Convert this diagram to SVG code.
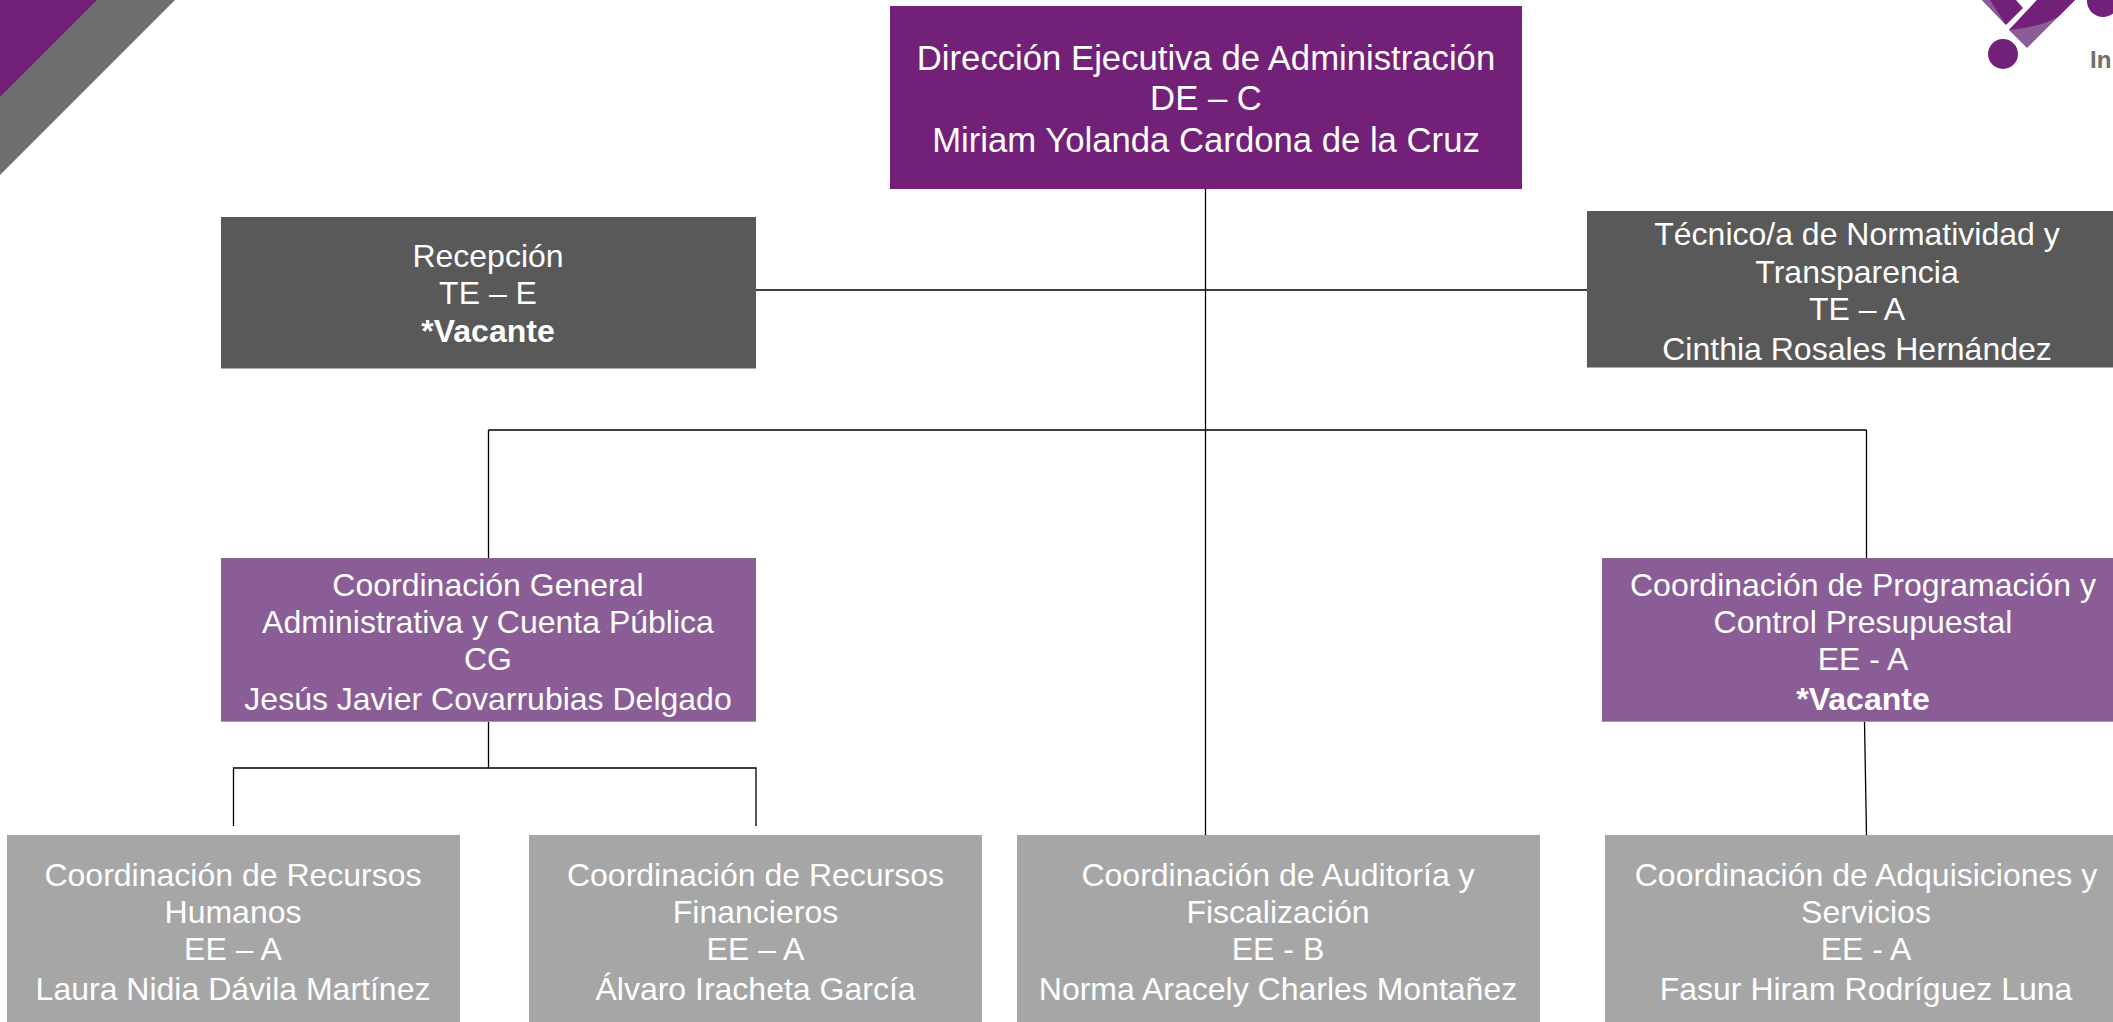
<svg xmlns="http://www.w3.org/2000/svg" width="2113" height="1022" viewBox="0 0 2113 1022">
<style>
text{font-family:"Liberation Sans",Arial,sans-serif;fill:#fff;text-anchor:middle}
.a{font-size:34.7px}.b{font-size:32px}
.v{font-weight:700}
.l{stroke:#000;stroke-width:1.3;fill:none}
</style>
<rect width="2113" height="1022" fill="#fff"/>
<g id="decor">
<polygon points="0,0 175,0 0,175" fill="#706f6f"/>
<polygon points="0,0 97,0 0,97" fill="#722078"/>
</g>
<g id="logo">
<polygon points="1982,0 2016,0 2023,8 2006,25" fill="#722078"/>
<polygon points="1982,0 1990,0 2006,25" fill="#8b5d96"/>
<polygon points="2009,30 2037,0 2075,0 2027,48" fill="#8b5d96"/>
<path d="M2009,30 L2037,0 L2075,0 L2058,17 Q2037,28 2009,30 Z" fill="#722078"/>
<circle cx="2003" cy="54" r="15" fill="#722078"/>
<circle cx="2103" cy="1" r="16" fill="#722078"/>
<text x="2090" y="68" style="fill:#6f6f6f;font-size:24px;font-weight:700;text-anchor:start">In</text>
</g>
<g id="connectors">
<path class="l" d="M1205.500,189V835M756,290H1587M488.500,430H1866.500M488.500,430V558M1866.500,430V558"/>
<path class="l" d="M488.500,722V768M233.500,826V768H756V826M1864.500,722L1866.500,835"/>
</g>
<g id="n1"><rect x="890" y="6" width="632" height="183" fill="#722078"/>
<text class="a" x="1206" y="70">Dirección Ejecutiva de Administración</text><text class="a" x="1206" y="110">DE – C</text><text class="a" x="1206" y="152">Miriam Yolanda Cardona de la Cruz</text></g>
<g id="n2"><rect x="221" y="217" width="535" height="151.500" fill="#595959"/>
<text class="b" x="488" y="267">Recepción</text><text class="b" x="488" y="304">TE – E</text><text class="b v" x="488" y="342">*Vacante</text></g>
<g id="n3"><rect x="1587" y="211" width="540" height="156.500" fill="#595959"/>
<text class="b" x="1857" y="245">Técnico/a de Normatividad y</text><text class="b" x="1857" y="283">Transparencia</text><text class="b" x="1857" y="320">TE – A</text><text class="b" x="1857" y="360">Cinthia Rosales Hernández</text></g>
<g id="n4"><rect x="221" y="558" width="535" height="163.700" fill="#8b5d96"/>
<text class="b" x="488" y="596">Coordinación General</text><text class="b" x="488" y="633">Administrativa y Cuenta Pública</text><text class="b" x="488" y="670">CG</text><text class="b" x="488" y="710">Jesús Javier Covarrubias Delgado</text></g>
<g id="n5"><rect x="1602" y="558" width="522" height="163.700" fill="#8b5d96"/>
<text class="b" x="1863" y="596">Coordinación de Programación y</text><text class="b" x="1863" y="633">Control Presupuestal</text><text class="b" x="1863" y="670">EE - A</text><text class="b v" x="1863" y="710">*Vacante</text></g>
<g id="n6"><rect x="7" y="835" width="453" height="187" fill="#a6a6a6"/>
<text class="b" x="233" y="886">Coordinación de Recursos</text><text class="b" x="233" y="923">Humanos</text><text class="b" x="233" y="960">EE – A</text><text class="b" x="233" y="1000">Laura Nidia Dávila Martínez</text></g>
<g id="n7"><rect x="529" y="835" width="453" height="187" fill="#a6a6a6"/>
<text class="b" x="755.500" y="886">Coordinación de Recursos</text><text class="b" x="755.500" y="923">Financieros</text><text class="b" x="755.500" y="960">EE – A</text><text class="b" x="755.500" y="1000">Álvaro Iracheta García</text></g>
<g id="n8"><rect x="1017" y="835" width="523" height="187" fill="#a6a6a6"/>
<text class="b" x="1278" y="886">Coordinación de Auditoría y</text><text class="b" x="1278" y="923">Fiscalización</text><text class="b" x="1278" y="960">EE - B</text><text class="b" x="1278" y="1000">Norma Aracely Charles Montañez</text></g>
<g id="n9"><rect x="1605" y="835" width="522" height="187" fill="#a6a6a6"/>
<text class="b" x="1866" y="886">Coordinación de Adquisiciones y</text><text class="b" x="1866" y="923">Servicios</text><text class="b" x="1866" y="960">EE - A</text><text class="b" x="1866" y="1000">Fasur Hiram Rodríguez Luna</text></g>
</svg>
